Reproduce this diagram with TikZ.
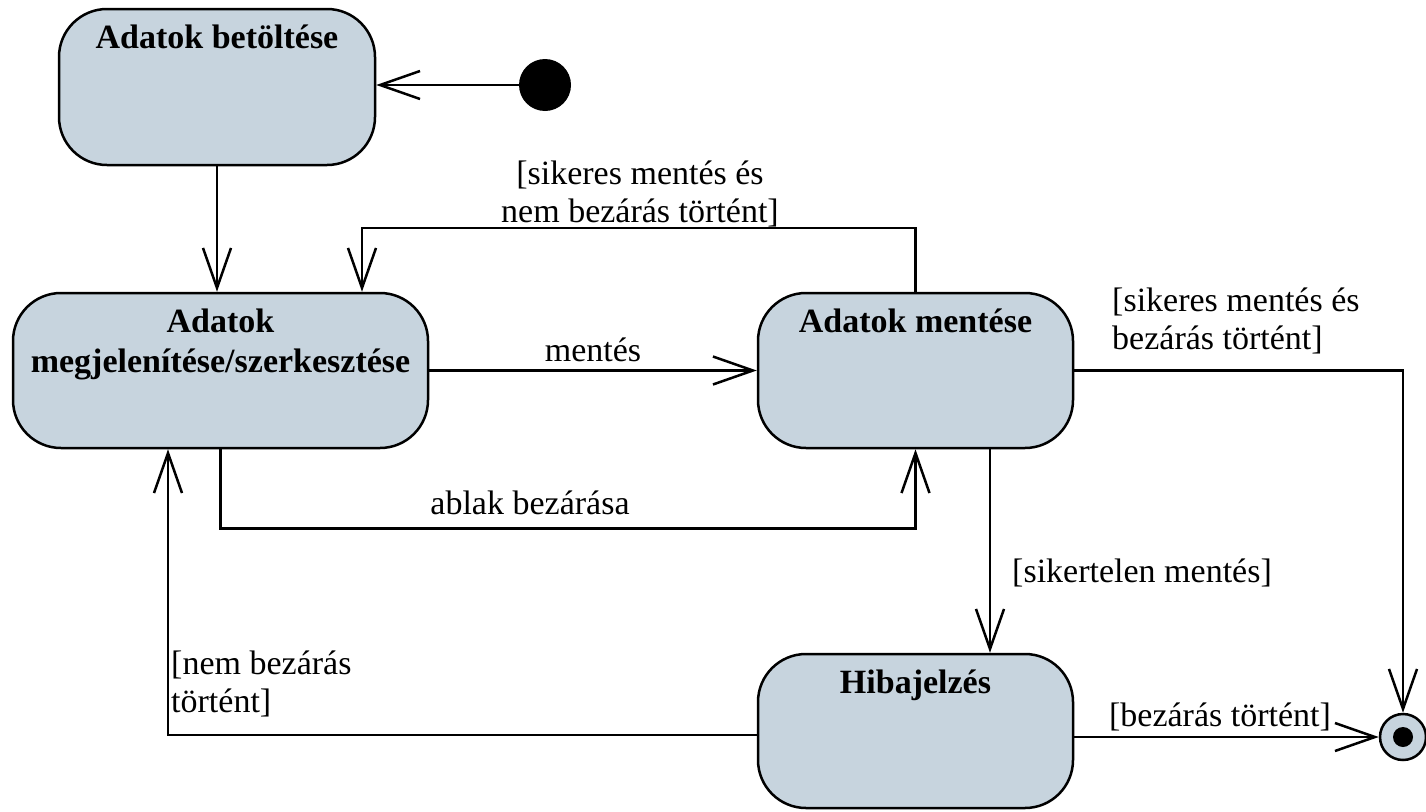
\documentclass[tikz,border=0pt]{standalone}
\usepackage{fontspec}
\setmainfont{Liberation Serif}
\usetikzlibrary{arrows.meta}
\definecolor{statefill}{RGB}{199,212,222}
\tikzset{
  stbox/.style={draw, line width=2.5pt, fill=statefill, rounded corners=48pt,
    inner sep=0pt, minimum height=155pt},
  ttl/.style={font=\fontsize{34}{40}\selectfont\bfseries, align=center, inner sep=0pt},
  sttitle/.style={label={[ttl, anchor=north, yshift=-17pt]north:{#1}}},
  lbl/.style={font=\fontsize{34}{38}\selectfont, inner sep=0pt},
  arr/.style={line width=2.5pt, -{Straight Barb[length=40pt,width=28pt,line width=2.5pt]}},
}
\begin{document}
\begin{tikzpicture}[x=1pt, y=-1pt]
\useasboundingbox (0,0) rectangle (1426,811);

% states
\node[stbox, minimum width=316pt, minimum height=156pt,
      sttitle={Adatok betöltése}] (b1) at (217,87) {};
\node[stbox, minimum width=415pt,
      sttitle={Adatok\\megjelenítése/szerkesztése}] (b2) at (220.5,370.5) {};
\node[stbox, minimum width=315pt,
      sttitle={Adatok mentése}] (b3) at (915.5,370.5) {};
\node[stbox, minimum width=315pt, minimum height=154pt,
      sttitle={Hibajelzés}] (b4) at (915.5,731) {};

% pseudo states
\node[circle, fill=black, inner sep=0pt, minimum size=52pt] (ini) at (545,85) {};
\node[circle, draw, line width=2.5pt, fill=statefill, inner sep=0pt, minimum size=46pt] (fin) at (1403,737) {};
\fill[black] (fin) circle (10);

% transitions
\draw[arr] (ini.west) -- (ini.west -| b1.east);
\draw[arr] (b1.south) -- (b1.south |- b2.north);
\draw[arr] (b2.east) -- (b3.west);
\draw[arr] (b3.north) -- ++(0,-64) -| ([xshift=141.5pt]b2.north);
\draw[arr] (b2.south) -- ++(0,79) -| (b3.south);
\draw[arr] ([xshift=74.5pt]b3.south) -- ([xshift=74.5pt]b4.north);
\draw[arr] ([yshift=-4pt]b4.west) -| ([xshift=-52.5pt]b2.south);
\draw[arr] (b3.east) -| (fin.north);
\draw[arr] (b4.east |- fin) -- (fin.west);

% guards and events
\node[lbl] (lment) at (593,350) {mentés};
\node[lbl, align=center] (lloop) at (640,194) {[sikeres mentés és\\nem bezárás történt]};
\node[lbl, align=left, anchor=west] (lok) at (1112,321) {[sikeres mentés és\\bezárás történt]};
\node[lbl] (lclose) at (530,503) {ablak bezárása};
\node[lbl, anchor=west] (lfail) at (1012,573) {[sikertelen mentés]};
\node[lbl, align=left, anchor=west] (lback) at (171,684) {[nem bezárás\\történt]};
\node[lbl] (lend) at (1220,717) {[bezárás történt]};
\end{tikzpicture}
\end{document}
